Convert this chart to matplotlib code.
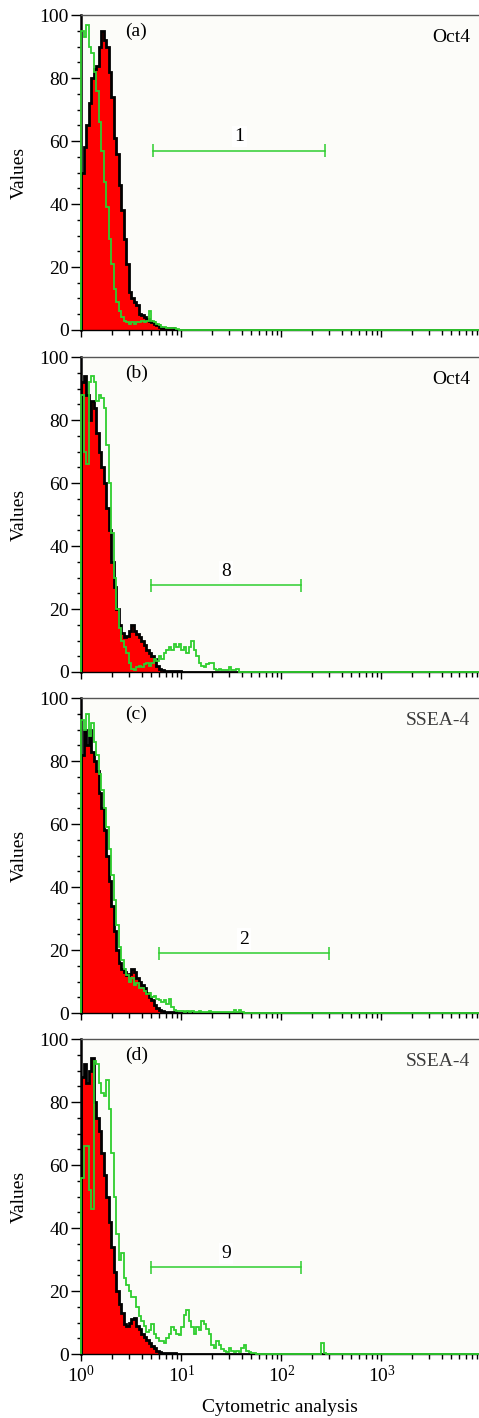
import numpy as np
import matplotlib
matplotlib.use('Agg')
import matplotlib.pyplot as plt
from matplotlib.ticker import MultipleLocator, LogLocator, NullFormatter, LogFormatterSciNotation

plt.rcParams['font.family'] = ['Liberation Serif', 'DejaVu Serif']
plt.rcParams['mathtext.fontset'] = 'custom'
plt.rcParams['mathtext.rm'] = 'Liberation Serif'
plt.rcParams['mathtext.it'] = 'Liberation Serif:italic'

# channel width in decades (log scale), histograms
bin_w = 0.025
x_max = 10 ** 3.975

# (a) Oct4
ctrl_a = [50, 58, 65, 72, 80, 83, 84, 90, 95, 92, 90, 82, 74, 61, 56, 46, 38, 29, 21, 12,
          10, 9, 8, 5, 4.6, 4, 3.5, 3, 2.5, 2, 1.5, 1, 0.5, 0.5, 0.5, 0.5, 0.5]
stain_a = [95, 93, 97, 90, 88, 82, 76, 66, 57, 47, 39, 29, 21, 13, 9, 6, 4, 3, 2.5, 2,
           2.5, 2, 2.5, 2.5, 3, 2.5, 3, 6, 3, 2.5, 2, 1.5, 1, 1, 0.5, 0.5, 0.5, 0.5, 0.3]

# (b) Oct4
ctrl_b = [92, 94, 88, 80, 86, 84, 76, 70, 65, 60, 52, 45, 35, 27, 20, 15, 12.5, 11, 11.5, 13,
          15, 13, 12, 11, 10, 8.5, 7, 6, 5, 4, 2, 1, 0.5, 0.3, 0.3, 0.3, 0.3, 0.3, 0.3, 0.3]
stain_b = [88, 70, 66, 92, 94, 92, 86, 88, 87, 84, 72, 60, 44, 30, 20, 14, 10, 8, 6, 3,
           1, 0.5, 1.5, 2, 1.5, 2.5, 3, 2, 3, 4, 3.5, 5, 4, 6, 7, 8, 7, 9, 8, 9,
           7, 8, 6, 8, 10, 7, 5, 3, 2, 1.5, 2.5, 3, 3, 1, 0.5, 1, 0.5, 0.5, 0.5, 1.5,
           0.5, 0.5, 1]

# (c) SSEA-4
ctrl_c = [82, 90, 85, 90, 83, 80, 77, 70, 65, 58, 50, 42, 34, 26, 20, 16, 14, 13, 12, 12.5,
          14, 13, 11, 10, 9, 8, 6.5, 5, 4, 2.5, 1.5, 1, 0.5, 0.3, 0.3, 0.3, 0.3, 0.3]
stain_c = [93, 90, 95, 88, 92, 86, 82, 76, 71, 65, 59, 52, 44, 36, 28, 21, 17, 14, 12, 10,
           11, 9, 9.5, 8, 8, 7, 6, 6.5, 5, 5.5, 4.5, 4, 3.5, 4, 3, 4.5, 2, 1, 0.8, 0.5,
           0.5, 0.3, 0.5, 0.3, 0.5, 0.3, 0.3, 0.5, 0.3, 0.3, 0.3, 0.5, 0.3, 0.3, 0.3, 0.3,
           0.3, 0.3, 0.3, 0.3, 0.3, 1, 0.3, 1, 0.3]

# (d) SSEA-4
ctrl_d = [88, 92, 86, 90, 94, 80, 75, 71, 64, 57, 50, 42, 34, 26, 20, 16, 13, 9.5, 9, 10,
          11, 11.5, 9, 8, 6.5, 5.5, 4.5, 3.5, 2.5, 2, 1, 0.5, 0.3, 0.3, 0.3, 0.3, 0.3, 0.3]
stain_d = [56, 66, 66, 52, 46, 93, 92, 86, 83, 82, 87, 78, 64, 50, 38, 30, 32, 24, 22, 20,
           18, 18, 15, 12, 10.5, 9, 7, 7.5, 9.5, 6.5, 5, 4, 4, 3.5, 5, 6.5, 8.5, 7.5, 6.5, 6,
           8.5, 12.5, 14, 10.5, 8.5, 6.5, 8.5, 7.5, 10.5, 9.5, 8, 6.5, 3, 2, 4, 3, 1.5, 1, 0.5, 2,
           1, 0.5, 1, 0.5, 2, 3, 1, 0.5, 0.3, 0.3, 0, 0, 0, 0, 0, 0, 0, 0, 0, 0,
           0, 0, 0, 0, 0, 0, 0, 0, 0, 0, 0, 0, 0, 0, 0, 0, 3.5, 0.3]

panel_tags = ['(a)', '(b)', '(c)', '(d)']
marker_names = ['Oct4', 'Oct4', 'SSEA-4', 'SSEA-4']
marker_colors = ['black', 'black', '#3c3c3c', '#3c3c3c']
gate_lo = [5.25, 5.0, 5.9, 5.0]
gate_hi = [275, 155, 302, 155]
gate_y = [57, 27.5, 19, 27.5]
gate_text = ['1', '8', '2', '9']

ctrl_all = [ctrl_a, ctrl_b, ctrl_c, ctrl_d]
stain_all = [stain_a, stain_b, stain_c, stain_d]

green = '#2fce2f'
# axes rectangles in figure fractions (479 x 1418 px)
bottoms = [0.7673, 0.5261, 0.2856, 0.0451]
height = 0.222
left = 0.170

fig = plt.figure(figsize=(4.79, 14.18), dpi=100)


def stairs_data(vals):
    vals = list(vals) + [0]
    edges = list(10 ** (bin_w * np.arange(len(vals)))) + [x_max]
    return vals, edges


for i in range(4):
    ax = fig.add_axes([left, bottoms[i], 1.0 - left, height])
    ax.set_facecolor('#fcfcf9')
    ax.set_xscale('log')
    ax.set_xlim(1, x_max)
    ax.set_ylim(0, 100)

    v, e = stairs_data(ctrl_all[i])
    ax.stairs(v, e, fill=True, color='red', lw=0, zorder=2)
    ax.stairs(v, e, color='black', lw=2.0, zorder=3)
    v, e = stairs_data(stain_all[i])
    ax.stairs(v, e, color=green, lw=1.3, zorder=4, clip_on=False)

    # marker gate
    ax.plot([gate_lo[i], gate_hi[i]], [gate_y[i], gate_y[i]], color=green, lw=1.1, zorder=5)
    ax.vlines([gate_lo[i], gate_hi[i]], gate_y[i] - 2, gate_y[i] + 2, color=green, lw=1.1, zorder=5)
    ax.text(np.sqrt(gate_lo[i] * gate_hi[i]), gate_y[i] + 1.8, gate_text[i], ha='center',
            va='bottom', fontsize=14, zorder=6,
            bbox=dict(facecolor='white', edgecolor='none', pad=1.5))

    ax.text(10 ** 0.55, 95, panel_tags[i], ha='center', va='center', fontsize=14)
    ax.text(10 ** 3.885, 93, marker_names[i], ha='right', va='center', fontsize=14,
            color=marker_colors[i])

    ax.yaxis.set_major_locator(MultipleLocator(20))
    ax.yaxis.set_minor_locator(MultipleLocator(5))
    ax.xaxis.set_major_locator(LogLocator(base=10, numticks=10))
    ax.xaxis.set_minor_locator(LogLocator(base=10, subs=np.arange(2, 10), numticks=20))
    ax.xaxis.set_minor_formatter(NullFormatter())
    ax.tick_params(axis='y', which='major', length=7.5, width=1, labelsize=14, pad=1.5)
    ax.tick_params(axis='y', which='minor', length=3, width=1)
    ax.tick_params(axis='x', which='major', length=5, width=1, labelsize=14, pad=3)
    ax.tick_params(axis='x', which='minor', length=3.5, width=1)

    ax.spines['right'].set_visible(False)
    ax.spines['top'].set_color('#555555')
    ax.spines['top'].set_linewidth(1)
    ax.spines['left'].set_linewidth(1.8)
    ax.spines['bottom'].set_linewidth(1)

    ax.set_ylabel('Values', fontsize=14)
    ax.yaxis.set_label_coords(-0.135, 0.5)

    if i < 3:
        ax.xaxis.set_major_formatter(NullFormatter())
    else:
        ax.xaxis.set_major_formatter(LogFormatterSciNotation())
        ax.set_xlabel('Cytometric analysis', fontsize=14, labelpad=9)

fig.savefig('out.png', dpi=100)
